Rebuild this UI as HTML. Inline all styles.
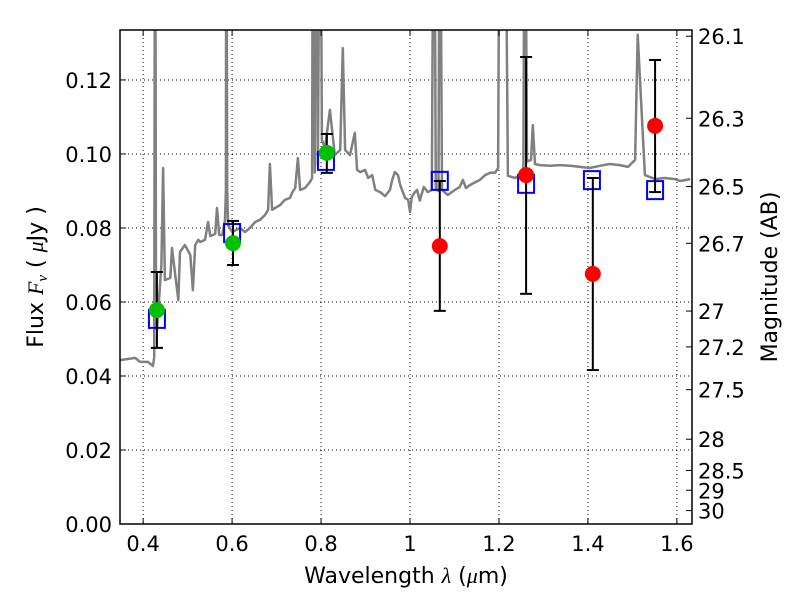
<!DOCTYPE html>
<html><head><meta charset="utf-8"><style>
body{margin:0;background:#fff}
svg text{font-family:"DejaVu Sans","Liberation Sans",sans-serif;fill:#000}
</style></head><body>
<svg id="chart" width="800" height="600" xmlns="http://www.w3.org/2000/svg">
<rect width="800" height="600" fill="#fff"/>
<defs><clipPath id="pc"><rect x="120" y="30" width="572" height="494"/></clipPath></defs>
<g id="grid"></g>
<g id="plot" clip-path="url(#pc)"></g>
<g id="axes"></g>
<text x="406" y="583" font-size="22" text-anchor="middle">Wavelength  <tspan font-style="italic" font-family="Liberation Serif">λ</tspan> (<tspan font-style="italic" font-family="Liberation Serif">μ</tspan>m)</text>
<text transform="translate(43,277) rotate(-90)" font-size="22" text-anchor="middle">Flux  <tspan font-style="italic" font-family="Liberation Serif">F<tspan font-size="15" dy="4">ν</tspan></tspan><tspan dy="-4">  ( </tspan><tspan font-style="italic" font-family="Liberation Serif">μ</tspan>Jy )</text>
<text transform="translate(777,277) rotate(-90)" font-size="22" text-anchor="middle">Magnitude (AB)</text>
</svg>
<script>
const specLam=[0.348,0.382,0.393,0.411,0.422,0.425,0.427,0.429,0.431,0.441,0.445,0.449,0.461,0.465,0.479,0.483,0.494,0.506,0.512,0.517,0.524,0.528,0.539,0.546,0.551,0.562,0.566,0.571,0.578,0.584,0.586,0.587,0.589,0.591,0.600,0.618,0.629,0.640,0.652,0.663,0.674,0.681,0.685,0.690,0.708,0.719,0.730,0.735,0.742,0.748,0.753,0.764,0.775,0.780,0.782,0.786,0.789,0.793,0.798,0.802,0.809,0.820,0.831,0.843,0.849,0.854,0.865,0.876,0.881,0.888,0.899,0.906,0.915,0.922,0.933,0.944,0.955,0.960,0.966,0.973,0.978,0.989,0.996,1.0,1.004,1.011,1.016,1.022,1.031,1.040,1.049,1.054,1.058,1.064,1.067,1.072,1.085,1.101,1.112,1.119,1.126,1.135,1.157,1.169,1.180,1.191,1.198,1.202,1.213,1.220,1.236,1.247,1.255,1.258,1.263,1.272,1.276,1.281,1.292,1.315,1.337,1.360,1.382,1.404,1.427,1.449,1.472,1.490,1.506,1.512,1.528,1.551,1.573,1.596,1.607,1.630];
const specFlux=[0.0443,0.0449,0.0438,0.0438,0.0427,0.045,0.2,0.06,0.0524,0.07,0.0962,0.0659,0.0665,0.0746,0.0605,0.0735,0.0754,0.0727,0.0632,0.0754,0.0768,0.0762,0.0768,0.0816,0.0778,0.0784,0.0854,0.0781,0.0781,0.0822,0.09,0.2,0.09,0.0808,0.0789,0.0800,0.0789,0.0800,0.0816,0.0822,0.0835,0.0849,0.0973,0.0849,0.0862,0.0876,0.0881,0.0895,0.0908,0.0989,0.0903,0.0908,0.0924,0.0935,0.2,0.095,0.2,0.097,0.2,0.1038,0.1016,0.1119,0.0997,0.1011,0.1286,0.1011,0.0997,0.1057,0.0957,0.0951,0.0957,0.0935,0.0943,0.0903,0.0897,0.0886,0.0903,0.0930,0.0951,0.0943,0.0916,0.0881,0.0876,0.0843,0.0884,0.0897,0.0903,0.0874,0.0911,0.0897,0.0903,0.2,0.0905,0.09,0.2,0.0903,0.0889,0.0903,0.0911,0.0930,0.0908,0.0916,0.0930,0.0943,0.0949,0.0949,0.0962,0.2,0.2,0.0941,0.0935,0.0943,0.095,0.2,0.098,0.0984,0.1078,0.0973,0.0970,0.0968,0.0970,0.0968,0.0965,0.0962,0.0968,0.0973,0.0970,0.0965,0.0984,0.1322,0.0943,0.0932,0.0935,0.0932,0.0927,0.0932,0.0927];
const modelLam=[0.431,0.600,0.811,1.067,1.261,1.409,1.551];
const modelFlux=[0.0557,0.0789,0.0984,0.0930,0.0922,0.0932,0.0905];
const detLam=[0.431,0.602,0.813];
const detFlux=[0.0578,0.0759,0.1003];
const detHi=[0.0681,0.0819,0.1054];
const detLo=[0.0476,0.0700,0.0949];
const ndLam=[1.067,1.261,1.411,1.551];
const ndFlux=[0.0751,0.0943,0.0676,0.1076];
const ndHi=[0.0927,0.1262,0.0935,0.1254];
const ndLo=[0.0576,0.0622,0.0416,0.0897];
const xTicks=[0.4,0.6,0.8,1.0,1.2,1.4,1.6];
const xTickLabels=["0.4","0.6","0.8","1","1.2","1.4","1.6"];
const yTicks=[0,0.02,0.04,0.06,0.08,0.10,0.12];
const yTickLabels=["0.00","0.02","0.04","0.06","0.08","0.10","0.12"];
const magTicks=[26.1,26.3,26.5,26.7,27,27.2,27.5,28,28.5,29,30];

const X0=120,X1=692,Y0=524,Y1=30;
const xmin=0.348,xmax=1.634,ymin=0,ymax=0.1335;
const sx=v=>X0+(v-xmin)/(xmax-xmin)*(X1-X0);
const sy=v=>Y0-(v-ymin)/(ymax-ymin)*(Y0-Y1);
const NS="http://www.w3.org/2000/svg";
function mk(tag,attrs,parent){const e=document.createElementNS(NS,tag);for(const k in attrs)e.setAttribute(k,attrs[k]);parent.appendChild(e);return e;}
const grid=document.getElementById('grid'),plot=document.getElementById('plot'),axes=document.getElementById('axes');

xTicks.forEach((t,i)=>{const x=sx(t);
 const g=mk('line',{x1:x,x2:x,y1:Y1,y2:Y0,stroke:'#000','stroke-width':1,'stroke-dasharray':'1,3'},grid);
 
 mk('line',{x1:x,x2:x,y1:Y0,y2:Y0-6,stroke:'#000'},axes);mk('line',{x1:x,x2:x,y1:Y1,y2:Y1+6,stroke:'#000'},axes);
 const tx=mk('text',{x:x,y:Y0+27,'font-size':21,'text-anchor':'middle'},axes);tx.textContent=xTickLabels[i];
 
});
yTicks.forEach((t,i)=>{const y=sy(t);
 const g=mk('line',{x1:X0,x2:X1,y1:y,y2:y,stroke:'#000','stroke-width':1,'stroke-dasharray':'1,3'},grid);
 
 mk('line',{x1:X0,x2:X0+6,y1:y,y2:y,stroke:'#000'},axes);
 const tx=mk('text',{x:X0-8,y:y+8,'font-size':21,'text-anchor':'end'},axes);tx.textContent=yTickLabels[i];
 
});
magTicks.forEach(m=>{const f=Math.pow(10,(23.9-m)/2.5);const y=sy(f);
 mk('line',{x1:X1,x2:X1-6,y1:y,y2:y,stroke:'#000'},axes);
 const tx=mk('text',{x:X1+6,y:y+8,'font-size':21},axes);tx.textContent=String(m);
 
});

const pts=specLam.map((l,i)=>sx(l).toFixed(1)+','+sy(specFlux[i]).toFixed(1)).join(' ');
const sp=mk('polyline',{points:pts,fill:'none',stroke:'#808080','stroke-width':2.5,'stroke-linejoin':'round'},plot);


function errbar(l,lo,hi,name){const x=sx(l);const g=mk('g',{stroke:'#000','stroke-width':2},plot);
 
 mk('line',{x1:x,x2:x,y1:sy(lo),y2:sy(hi)},g);
 mk('line',{x1:x-6,x2:x+6,y1:sy(lo),y2:sy(lo)},g);mk('line',{x1:x-6,x2:x+6,y1:sy(hi),y2:sy(hi)},g);}
modelLam.forEach((l,i)=>{const r=mk('rect',{x:sx(l)-8,y:sy(modelFlux[i])-8,width:16,height:18,fill:'none',stroke:'#0000ff','stroke-width':2},plot);
 });
detLam.forEach((l,i)=>{errbar(l,detLo[i],detHi[i],'detection-errorbar');
 const c=mk('circle',{cx:sx(l),cy:sy(detFlux[i]),r:8,fill:'#00c000'},plot);
 });
ndLam.forEach((l,i)=>{errbar(l,ndLo[i],ndHi[i],'low-snr-errorbar');
 const c=mk('circle',{cx:sx(l),cy:sy(ndFlux[i]),r:8,fill:'#ff0000'},plot);
 });

const fr=mk('rect',{x:X0,y:Y1,width:X1-X0,height:Y0-Y1,fill:'none',stroke:'#000','stroke-width':1.5},axes);

</script>
</body></html>
